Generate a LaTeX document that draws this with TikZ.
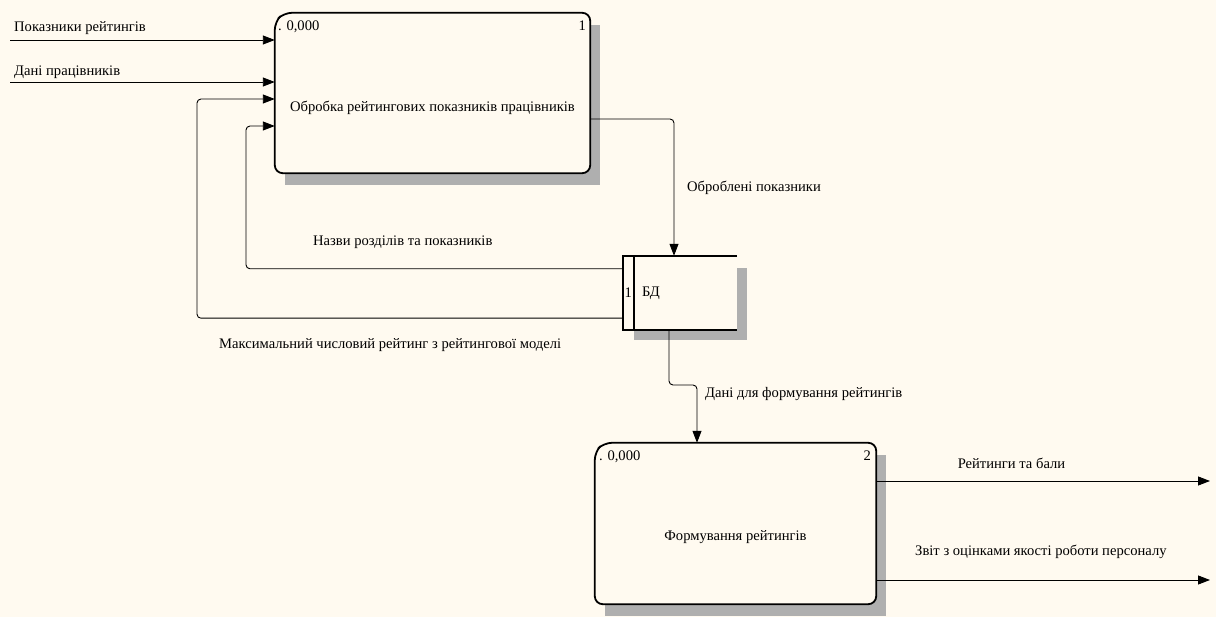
\documentclass[tikz,border=0pt]{standalone}
\usepackage{fontspec}
\setmainfont{Liberation Serif}
\usetikzlibrary{arrows.meta,calc,backgrounds}
\definecolor{bg}{RGB}{255,250,240}
\definecolor{shadowc}{RGB}{175,175,175}
\begin{document}
\begin{tikzpicture}[x=1pt,y=-1pt,
  lbl/.style={font=\fontsize{14.6}{16}\selectfont, inner sep=0pt, text=black},
  procbox/.style={minimum width=#1, inner sep=0pt, draw=none},
  boxline/.style={line width=1.8pt, rounded corners=8pt, fill=bg},
  flow/.style={line width=0.9pt, rounded corners=4pt},
  arr/.style={flow, -{Triangle[length=12pt,width=9pt]}},
]
\useasboundingbox (0,0) rectangle (1216,617);

% process boxes (invisible nodes, outlines drawn below)
\node[procbox=315pt, minimum height=160pt] (p1) at (432.5,93) {};
\node[procbox=281pt, minimum height=161pt] (p2) at (735.5,523.5) {};
\node[procbox=114pt, minimum height=74pt] (bd) at (680,293) {};

% shadows and background
\begin{scope}[on background layer]
  \fill[bg] (0,0) rectangle (1216,617);
  \fill[shadowc] ($(p1.north west)+(10,12)$) rectangle ($(p1.south east)+(10,12)$);
  \fill[shadowc] ($(p2.north west)+(10,12)$) rectangle ($(p2.south east)+(10,12)$);
  \fill[shadowc] ($(bd.north east)+(0,12)$) rectangle ($(bd.south east)+(10,10)$);
  \fill[shadowc] ($(bd.south west)+(11,0)$) rectangle ($(bd.south east)+(10,10)$);
\end{scope}

% box outlines
\draw[boxline] ($(p1.north west)+(0,9)$) -- ($(p1.north west)+(9,0)$) -- (p1.north east) -- (p1.south east) -- (p1.south west) -- cycle;
\draw[boxline] ($(p2.north west)+(0,9)$) -- ($(p2.north west)+(9,0)$) -- (p2.north east) -- (p2.south east) -- (p2.south west) -- cycle;
\draw[line width=1.6pt] (bd.north east) -- (bd.north west) -- (bd.south west) -- (bd.south east);
\draw[line width=1.6pt] ($(bd.north west)+(11,0)$) -- ($(bd.south west)+(11,0)$);

% box texts
\node[lbl] (p1t) at (p1.center) [yshift=-15pt] {Обробка рейтингових показників працівників};
\node[lbl, anchor=north west] (p1n) at ($(p1.north west)+(3,8)$) {. 0,000};
\node[lbl, anchor=north east] (p1i) at ($(p1.north east)+(-4,8)$) {1};
\node[lbl] (p2t) at (p2.center) [yshift=-14pt] {Формування рейтингів};
\node[lbl, anchor=north west] (p2n) at ($(p2.north west)+(4,8)$) {. 0,000};
\node[lbl, anchor=north east] (p2i) at ($(p2.north east)+(-5,8)$) {2};
\node[lbl, anchor=west] (bdt) at ($(bd.west)+(19,0)$) {БД};
\node[lbl] (bdi) at ($(bd.west)+(5.5,0)$) {1};

% connectors
\coordinate (s1) at (10,40);
\coordinate (s2) at (10,82);
\draw[arr] (s1) -- (s1 -| p1.west);
\draw[arr] (s2) -- (s2 -| p1.west);

\coordinate (c3) at (197,99);
\coordinate (bdA) at ($(bd.south west)+(0,-12)$);
\draw[arr] (bdA) -| (c3) -- (c3 -| p1.west);

\coordinate (c4) at (246,126);
\coordinate (bdB) at ($(bd.north west)+(0,13)$);
\draw[arr] (bdB) -| (c4) -- (c4 -| p1.west);

\coordinate (o1) at (674,119);
\draw[arr] (o1 -| p1.east) -- (o1) -- (o1 |- bd.north);

\coordinate (d1) at (669,385);
\coordinate (d2) at (697,385);
\draw[arr] (d1 |- bd.south) -- (d1) -- (d2) -- (d2 |- p2.north);

\coordinate (e1) at (1210,481);
\coordinate (e2) at (1210,580);
\draw[arr] (e1 -| p2.east) -- (e1);
\draw[arr] (e2 -| p2.east) -- (e2);

% connector labels
\node[lbl, anchor=west] (l1) at (14,28) {Показники рейтингів};
\node[lbl, anchor=west] (l2) at (14,72) {Дані працівників};
\node[lbl, anchor=west] (l3) at (687,188) {Оброблені показники};
\node[lbl, anchor=west] (l4) at (313,242) {Назви розділів та показників};
\node[lbl, anchor=west] (l5) at (219,345) {Максимальний числовий рейтинг з рейтингової моделі};
\node[lbl, anchor=west] (l6) at (705,394) {Дані для формування рейтингів};
\node[lbl] (l7) at (1011.5,463) {Рейтинги та бали};
\node[lbl, anchor=west] (l8) at (915,552) {Звіт з оцінками якості роботи персоналу};
\end{tikzpicture}
\end{document}
